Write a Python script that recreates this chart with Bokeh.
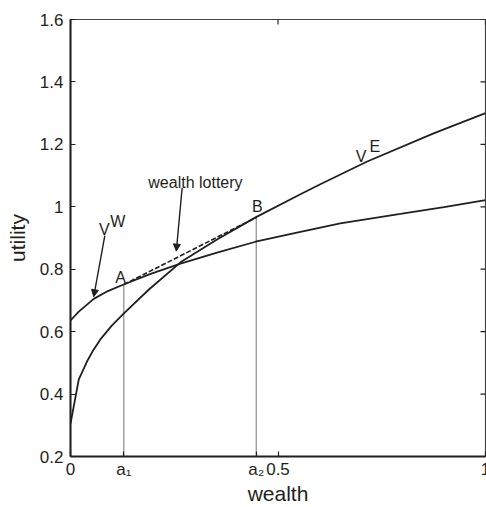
import math
from bokeh.plotting import figure
from bokeh.models import FixedTicker, Label, Arrow, NormalHead, Range1d
from bokeh.embed import file_html
from bokeh.resources import INLINE

# ---- data ----
wealth_w = [0, 0.02, 0.056, 0.09, 0.128, 0.193, 0.265, 0.353, 0.446, 0.554, 0.65, 0.795, 0.9, 1.0]
util_vw = [0.636, 0.664, 0.705, 0.73, 0.751, 0.785, 0.818, 0.853, 0.888, 0.92, 0.947, 0.977, 0.999, 1.021]

wealth_e = [0, 0.02, 0.04, 0.056, 0.072, 0.1, 0.128, 0.189, 0.265, 0.353, 0.446, 0.554, 0.602, 0.715, 0.875, 1.0]
util_ve = [0.305, 0.447, 0.505, 0.543, 0.575, 0.62, 0.658, 0.735, 0.822, 0.895, 0.966, 1.04, 1.072, 1.145, 1.235, 1.30]

a1 = 0.1285
a2 = 0.4475
util_A = 0.751
util_B = 0.966

x_ticks = [0, 0.5, 1]
x_tick_labels = ["0", "0.5", "1"]
a_ticks = [a1, a2]
a_tick_labels = ["a\u2081", "a\u2082"]
y_ticks = [0.2, 0.4, 0.6, 0.8, 1.0, 1.2, 1.4, 1.6]
y_tick_labels = ["0.2", "0.4", "0.6", "0.8", "1", "1.2", "1.4", "1.6"]

X_MIN, X_MAX = 0, 1
Y_MIN, Y_MAX = 0.2, 1.6

FONT = "Liberation Sans, DejaVu Sans"
INK = "#231f20"

p = figure(width=486, height=507, x_range=Range1d(X_MIN, X_MAX), y_range=Range1d(Y_MIN, Y_MAX),
           output_backend="svg", toolbar_location=None,
           min_border_left=70, min_border_right=1, min_border_top=19, min_border_bottom=50)
p.grid.visible = False
p.outline_line_color = "#444444"
p.outline_line_width = 1.2
p.background_fill_color = "white"
p.border_fill_color = "white"

# bottom axis (numbers plus a1, a2)
xa = p.xaxis[0]
all_x = x_ticks + a_ticks
xa.ticker = FixedTicker(ticks=all_x)
xa.major_label_overrides = {t: l for t, l in zip(all_x, x_tick_labels + a_tick_labels)}
xa.axis_label = "wealth"
# left axis
ya = p.yaxis[0]
ya.ticker = FixedTicker(ticks=y_ticks)
ya.major_label_overrides = {t: l for t, l in zip(y_ticks, y_tick_labels)}
ya.axis_label = "utility"

for ax in (xa, ya):
    ax.major_tick_in = 5
    ax.major_tick_out = 0
    ax.minor_tick_line_color = None
    ax.axis_line_width = 2
    ax.axis_line_color = INK
    ax.major_tick_line_color = INK
    ax.major_tick_line_width = 1.2
    ax.major_label_text_font = FONT
    ax.major_label_text_font_size = "17px"
    ax.major_label_text_color = INK
    ax.axis_label_text_font = FONT
    ax.axis_label_text_font_size = "21px"
    ax.axis_label_text_font_style = "normal"
    ax.axis_label_text_color = INK
xa.major_label_standoff = 3
xa.axis_label_standoff = 0
ya.major_label_standoff = 7
ya.axis_label_standoff = 8

# mirrored inward ticks on the right and top edges (half of each dash is clipped by the frame)
p.scatter(x=[X_MAX] * len(y_ticks), y=y_ticks, marker="dash", size=10,
          line_color=INK, line_width=1.2)
p.scatter(x=x_ticks, y=[Y_MAX] * len(x_ticks), marker="dash", size=10, angle=math.pi / 2,
          line_color=INK, line_width=1.2)

# curves
p.line(wealth_w, util_vw, line_color=INK, line_width=1.8)
p.line(wealth_e, util_ve, line_color=INK, line_width=1.8)

# lottery chord
p.line([a1, a2], [util_A, util_B], line_color=INK, line_width=1.6, line_dash="5 2")

# dotted verticals
p.segment(x0=a_ticks, y0=[Y_MIN, Y_MIN], x1=a_ticks, y1=[util_A, util_B],
          line_color="#000000", line_width=1.1, line_dash="1 1")

def lab(x, y, text, size="16px", align="left"):
    p.add_layout(Label(x=x, y=y, text=text, text_font=FONT, text_font_size=size,
                       text_color=INK, text_align=align, text_baseline="alphabetic"))

lab(0.1205, 0.774, "A", align="center")
lab(0.4505, 1.0, "B", align="center")
lab(0.301, 1.077, "wealth lottery", align="center")
lab(0.0815, 0.927, "V", align="center")
lab(0.096, 0.954, "W")
lab(0.700, 1.162, "V", align="center")
lab(0.7205, 1.194, "E")

# arrows
p.add_layout(Arrow(end=NormalHead(size=7, fill_color=INK, line_color=INK),
                   x_start=0.0827, y_start=0.908, x_end=0.056, y_end=0.712,
                   line_color=INK, line_width=1.4))
p.add_layout(Arrow(end=NormalHead(size=7, fill_color=INK, line_color=INK),
                   x_start=0.269, y_start=1.061, x_end=0.255, y_end=0.858,
                   line_color=INK, line_width=1.4))

open("out.html", "w").write(file_html(p, INLINE))
